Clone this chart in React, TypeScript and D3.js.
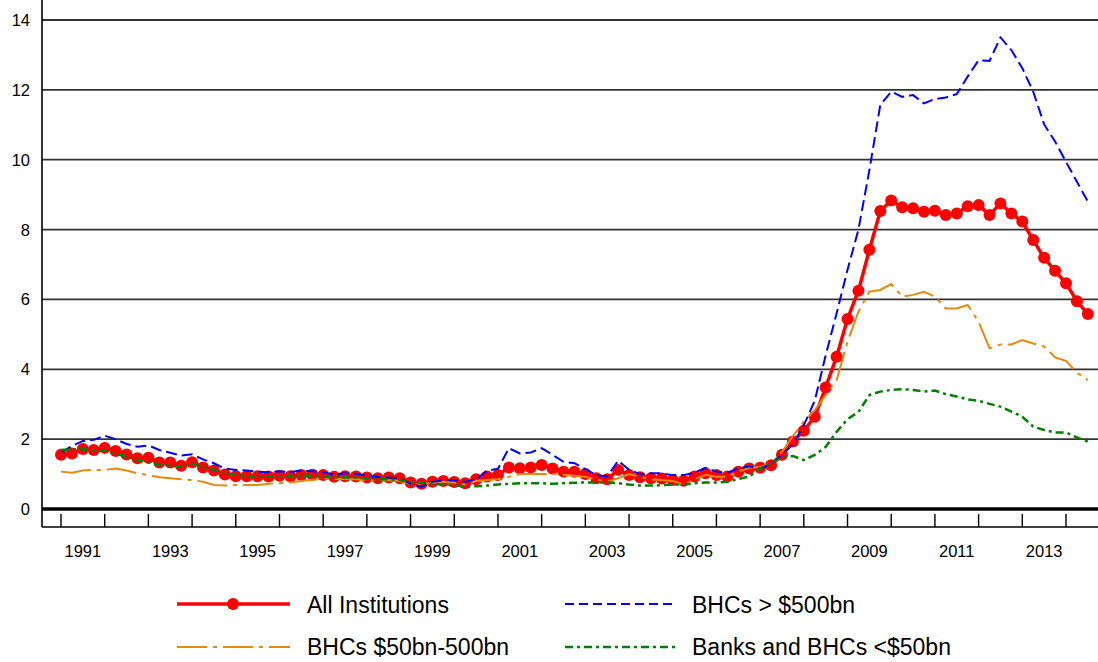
import React from "react";
import * as d3 from "d3";

// Quarterly series, 1991Q1 .. 2014Q3
const START_YEAR = 1991;
const allInstitutions = [
  1.55, 1.59, 1.72, 1.69, 1.75, 1.66, 1.56, 1.45, 1.47, 1.33, 1.33, 1.24, 1.34, 1.19, 1.10, 0.99,
  0.94, 0.94, 0.94, 0.93, 0.95, 0.94, 0.97, 0.98, 0.97, 0.92, 0.94, 0.93, 0.90, 0.88, 0.90, 0.88,
  0.76, 0.72, 0.78, 0.80, 0.77, 0.74, 0.85, 0.93, 0.97, 1.19, 1.17, 1.19, 1.26, 1.16, 1.07, 1.07,
  1.00, 0.88, 0.85, 1.12, 0.97, 0.91, 0.88, 0.87, 0.83, 0.81, 0.93, 1.02, 0.97, 0.93, 1.07, 1.16,
  1.18, 1.25, 1.55, 1.93, 2.24, 2.64, 3.48, 4.36, 5.44, 6.25, 7.42, 8.53, 8.83, 8.64, 8.61, 8.51,
  8.54, 8.42, 8.46, 8.67, 8.70, 8.42, 8.75, 8.46, 8.23, 7.70, 7.19, 6.82, 6.46, 5.95, 5.58,
];
const bhcsOver500 = [
  1.62, 1.80, 1.95, 1.98, 2.10, 2.00, 1.86, 1.78, 1.82, 1.69, 1.61, 1.53, 1.57, 1.42, 1.31, 1.16,
  1.12, 1.10, 1.07, 1.05, 1.08, 1.06, 1.10, 1.08, 1.05, 0.98, 1.02, 1.01, 0.95, 0.92, 0.90, 0.88,
  0.72, 0.64, 0.78, 0.82, 0.82, 0.78, 0.85, 1.10, 1.15, 1.74, 1.59, 1.62, 1.74, 1.55, 1.35, 1.31,
  1.14, 0.97, 0.93, 1.38, 1.12, 1.00, 1.02, 1.02, 0.97, 0.97, 1.04, 1.18, 1.07, 1.04, 1.16, 1.22,
  1.15, 1.30, 1.55, 1.85, 2.40, 3.10, 4.40, 5.60, 6.85, 8.00, 9.70, 11.57, 11.95, 11.80, 11.85, 11.61,
  11.74, 11.78, 11.88, 12.38, 12.85, 12.83, 13.50, 13.14, 12.62, 11.95, 11.01, 10.52, 9.94, 9.37, 8.80,
];
const bhcs50to500 = [
  1.07, 1.04, 1.10, 1.12, 1.12, 1.16, 1.10, 1.02, 0.97, 0.91, 0.88, 0.85, 0.83, 0.78, 0.69, 0.67,
  0.69, 0.69, 0.69, 0.72, 0.74, 0.76, 0.80, 0.84, 0.86, 0.86, 0.86, 0.85, 0.82, 0.82, 0.82, 0.80,
  0.72, 0.70, 0.75, 0.78, 0.75, 0.70, 0.80, 0.83, 0.85, 0.92, 1.00, 1.00, 1.00, 1.00, 0.98, 0.95,
  0.92, 0.85, 0.78, 0.88, 1.00, 0.92, 0.85, 0.83, 0.80, 0.70, 0.85, 0.98, 0.92, 0.92, 1.07, 1.18,
  1.20, 1.30, 1.64, 2.09, 2.50, 2.83, 3.26, 3.69, 4.79, 5.65, 6.22, 6.27, 6.44, 6.08, 6.13, 6.22,
  6.08, 5.74, 5.74, 5.84, 5.36, 4.60, 4.71, 4.71, 4.84, 4.74, 4.65, 4.34, 4.24, 3.90, 3.69,
];
const banksUnder50 = [
  1.69, 1.71, 1.71, 1.67, 1.67, 1.59, 1.50, 1.40, 1.33, 1.28, 1.24, 1.20, 1.30, 1.20, 1.12, 1.02,
  0.97, 0.94, 0.94, 0.92, 0.93, 0.95, 0.95, 0.95, 0.93, 0.90, 0.90, 0.90, 0.87, 0.85, 0.85, 0.82,
  0.78, 0.75, 0.72, 0.70, 0.68, 0.64, 0.65, 0.67, 0.70, 0.72, 0.74, 0.74, 0.74, 0.72, 0.74, 0.75,
  0.76, 0.76, 0.76, 0.74, 0.70, 0.67, 0.67, 0.68, 0.70, 0.70, 0.74, 0.76, 0.76, 0.78, 0.86, 0.93,
  1.16, 1.31, 1.48, 1.52, 1.40, 1.55, 1.78, 2.21, 2.57, 2.78, 3.26, 3.36, 3.41, 3.43, 3.41, 3.36,
  3.39, 3.29, 3.22, 3.14, 3.10, 3.01, 2.93, 2.79, 2.64, 2.36, 2.26, 2.19, 2.19, 2.05, 1.93,
];
const yTicks = [0, 2, 4, 6, 8, 10, 12, 14];
const yearTicks = d3.range(1991, 2015);
const yearLabels = ["1991", "1993", "1995", "1997", "1999", "2001", "2003", "2005", "2007", "2009", "2011", "2013"];
const seriesNames = ["All Institutions", "BHCs > $500bn", "BHCs $50bn-500bn", "Banks and BHCs <$50bn"];

const W = 1098;
const H = 662;
const FONT = "'Liberation Sans', Arial, Helvetica, sans-serif";

const x = d3.scaleLinear().domain([1991, 2014]).range([61, 1066]);
const y = d3.scaleLinear().domain([0, 14]).range([509, 20]);

const toPts = (vals: number[]) => vals.map((v, i) => ({ t: START_YEAR + i / 4, v }));
const line = d3
  .line<{ t: number; v: number }>()
  .x((d) => x(d.t))
  .y((d) => y(d.v));

const RED = "#ff0000";
const BLUE = "#0000ff";
const ORANGE = "#e8890c";
const GREEN = "#008000";

const styles = {
  blue: { strokeWidth: 2, dash: "11,5" },
  orange: { strokeWidth: 2, dash: "30,6,4,6" },
  green: { strokeWidth: 2.5, dash: "8,4,3,4" },
};

export default function App() {
  const redPts = toPts(allInstitutions);
  const left = 42;
  const right = W;
  return (
    <svg
      width={W}
      height={H}
      style={{ position: "absolute", left: 0, top: 0, background: "#fff" }}
      fontFamily={FONT}
    >
      {/* gridlines */}
      {yTicks
        .filter((t) => t > 0)
        .map((t) => (
          <line key={t} x1={left} x2={right} y1={y(t)} y2={y(t)} stroke="#333" strokeWidth={1.8} />
        ))}
      {/* y labels */}
      {yTicks.map((t) => (
        <text key={t} x={30} y={y(t)} dy="0.36em" textAnchor="end" fontSize={16.5} fill="#000">
          {t}
        </text>
      ))}
      {/* left axis */}
      <line x1={left} x2={left} y1={0} y2={527} stroke="#000" strokeWidth={1.6} />
      {/* bottom axis */}
      <line x1={left} x2={right} y1={527} y2={527} stroke="#000" strokeWidth={1.4} />
      {yearTicks.map((yr) => (
        <line key={yr} x1={x(yr)} x2={x(yr)} y1={514} y2={527} stroke="#000" strokeWidth={1.4} />
      ))}
      {yearLabels.map((lab) => (
        <text key={lab} x={x(+lab + 0.5)} y={557} textAnchor="middle" fontSize={16.5} fill="#000">
          {lab}
        </text>
      ))}

      {/* series */}
      <path d={line(redPts) || ""} fill="none" stroke={RED} strokeWidth={3.5} strokeLinejoin="round" />
      {redPts.map((p, i) => (
        <circle key={i} cx={x(p.t)} cy={y(p.v)} r={6} fill={RED} />
      ))}
      <path
        d={line(toPts(bhcs50to500)) || ""}
        fill="none"
        stroke={ORANGE}
        strokeWidth={styles.orange.strokeWidth}
        strokeDasharray={styles.orange.dash}
      />
      <path
        d={line(toPts(bhcsOver500)) || ""}
        fill="none"
        stroke={BLUE}
        strokeWidth={styles.blue.strokeWidth}
        strokeDasharray={styles.blue.dash}
      />
      <path
        d={line(toPts(banksUnder50)) || ""}
        fill="none"
        stroke={GREEN}
        strokeWidth={styles.green.strokeWidth}
        strokeDasharray={styles.green.dash}
      />

      {/* zero line */}
      <line x1={left} x2={right} y1={y(0)} y2={y(0)} stroke="#000" strokeWidth={3.5} />

      {/* legend */}
      <g fontSize={23} fill="#000">
        <line x1={177} x2={290} y1={604} y2={604} stroke={RED} strokeWidth={3.5} />
        <circle cx={233} cy={604} r={6} fill={RED} />
        <text x={307} y={613}>{seriesNames[0]}</text>

        <line x1={565} x2={677} y1={604} y2={604} stroke={BLUE} strokeWidth={2} strokeDasharray="9,5" />
        <text x={692} y={613}>{seriesNames[1]}</text>

        <line x1={177} x2={290} y1={647} y2={647} stroke={ORANGE} strokeWidth={2} strokeDasharray={styles.orange.dash} />
        <text x={307} y={655}>{seriesNames[2]}</text>

        <line x1={565} x2={677} y1={647} y2={647} stroke={GREEN} strokeWidth={2.5} strokeDasharray={styles.green.dash} />
        <text x={692} y={655}>{seriesNames[3]}</text>
      </g>
    </svg>
  );
}
